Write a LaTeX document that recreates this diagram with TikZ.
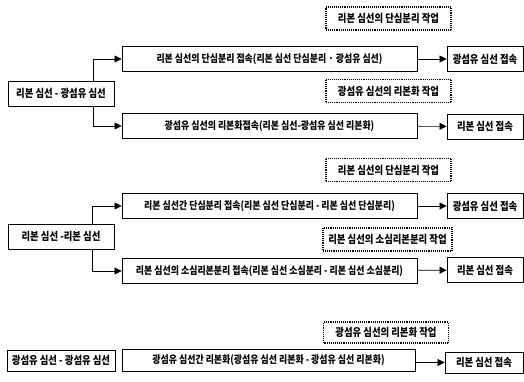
\documentclass[tikz,border=0pt]{standalone}
\usepackage{fontspec}
\setmainfont[FakeStretch=0.85]{Noto Sans CJK KR}
\usetikzlibrary{arrows.meta}

\begin{document}
\begin{tikzpicture}[x=1pt, y=-1pt,
    every node/.style={font=\fontsize{11}{13}\selectfont\bfseries, inner sep=2pt},
    box/.style={rectangle, draw, line width=0.9pt, minimum height=25pt, align=center, fill=white},
    mainbox/.style={box, minimum width=295pt, font=\fontsize{10.5}{13}\selectfont\bfseries},
    resbox/.style={box, minimum width=76pt},
    srcbox/.style={box, minimum width=106pt},
    workbox/.style={box, densely dotted, line width=1.3pt, minimum width=125pt, minimum height=23pt},
    arrow/.style={-{Triangle[length=7pt, width=7pt]}, line width=0.7pt}]

  \useasboundingbox (0,0) rectangle (524,382);

  % ribbon - optical fiber
  \node[workbox] (wSplit1) at (388.5, 18.5) {리본 심선의 단심분리 작업};
  \node[mainbox] (mSplit1) at (269.5, 59)   {리본 심선의 단심분리 접속(리본 심선 단심분리 · 광섬유 심선)};
  \node[resbox]  (rFiber1) at (485, 59)     {광섬유 심선 접속};
  \node[srcbox]  (sRibFib) at (61, 93.5)    {리본 심선 - 광섬유 심선};
  \node[workbox] (wRib1)   at (388.5, 91)   {광섬유 심선의 리본화 작업};
  \node[mainbox] (mRib1)   at (269.5, 126)  {광섬유 심선의 리본화접속(리본 심선-광섬유 심선 리본화)};
  \node[resbox]  (rRib1)   at (485, 126.5)  {리본 심선 접속};

  \draw[arrow] ([xshift=32pt]sRibFib.north) |- (mSplit1.west);
  \draw[arrow] ([xshift=32pt]sRibFib.south) |- (mRib1.west);
  \draw[arrow] (mSplit1) -- (rFiber1);
  \draw[arrow] (mRib1) -- (rRib1);

  % ribbon - ribbon
  \node[workbox] (wSplit2) at (388.5, 170)  {리본 심선의 단심분리 작업};
  \node[mainbox] (mSplit2) at (269.5, 206)  {리본 심선간 단심분리 접속(리본 심선 단심분리 - 리본 심선 단심분리)};
  \node[resbox]  (rFiber2) at (485, 206)    {광섬유 심선 접속};
  \node[srcbox]  (sRibRib) at (61, 236.5)   {리본 심선 -리본 심선};
  \node[workbox, minimum width=129pt] (wSub2) at (387.5, 239.5) {리본 심선의 소심리본분리 작업};
  \node[mainbox] (mSub2)   at (269.5, 271)  {리본 심선의 소심리본분리 접속(리본 심선 소심분리 - 리본 심선 소심분리)};
  \node[resbox]  (rRib2)   at (485, 270)    {리본 심선 접속};

  \draw[arrow] ([xshift=31pt]sRibRib.north) |- (mSplit2.west);
  \draw[arrow] ([xshift=31pt]sRibRib.south) |- (mSub2.west);
  \draw[arrow] (mSplit2) -- (rFiber2);
  \draw[arrow] (mSub2) -- (rRib2);

  % optical fiber - optical fiber
  \node[workbox, minimum height=21pt] (wRib3) at (386, 332.5) {광섬유 심선의 리본화 작업};
  \node[srcbox, minimum width=108pt, minimum height=21pt] (sFibFib) at (61, 360.5) {광섬유 심선 - 광섬유 심선};
  \node[mainbox, minimum width=293pt, minimum height=22pt] (mRib3) at (268.5, 360) {광섬유 심선간 리본화(광섬유 심선 리본화 - 광섬유 심선 리본화)};
  \node[resbox, minimum width=78pt, minimum height=21pt] (rRib3) at (484, 362.5) {리본 심선 접속};

  \draw[arrow] (mRib3.east |- rRib3) -- (rRib3);
\end{tikzpicture}
\end{document}
